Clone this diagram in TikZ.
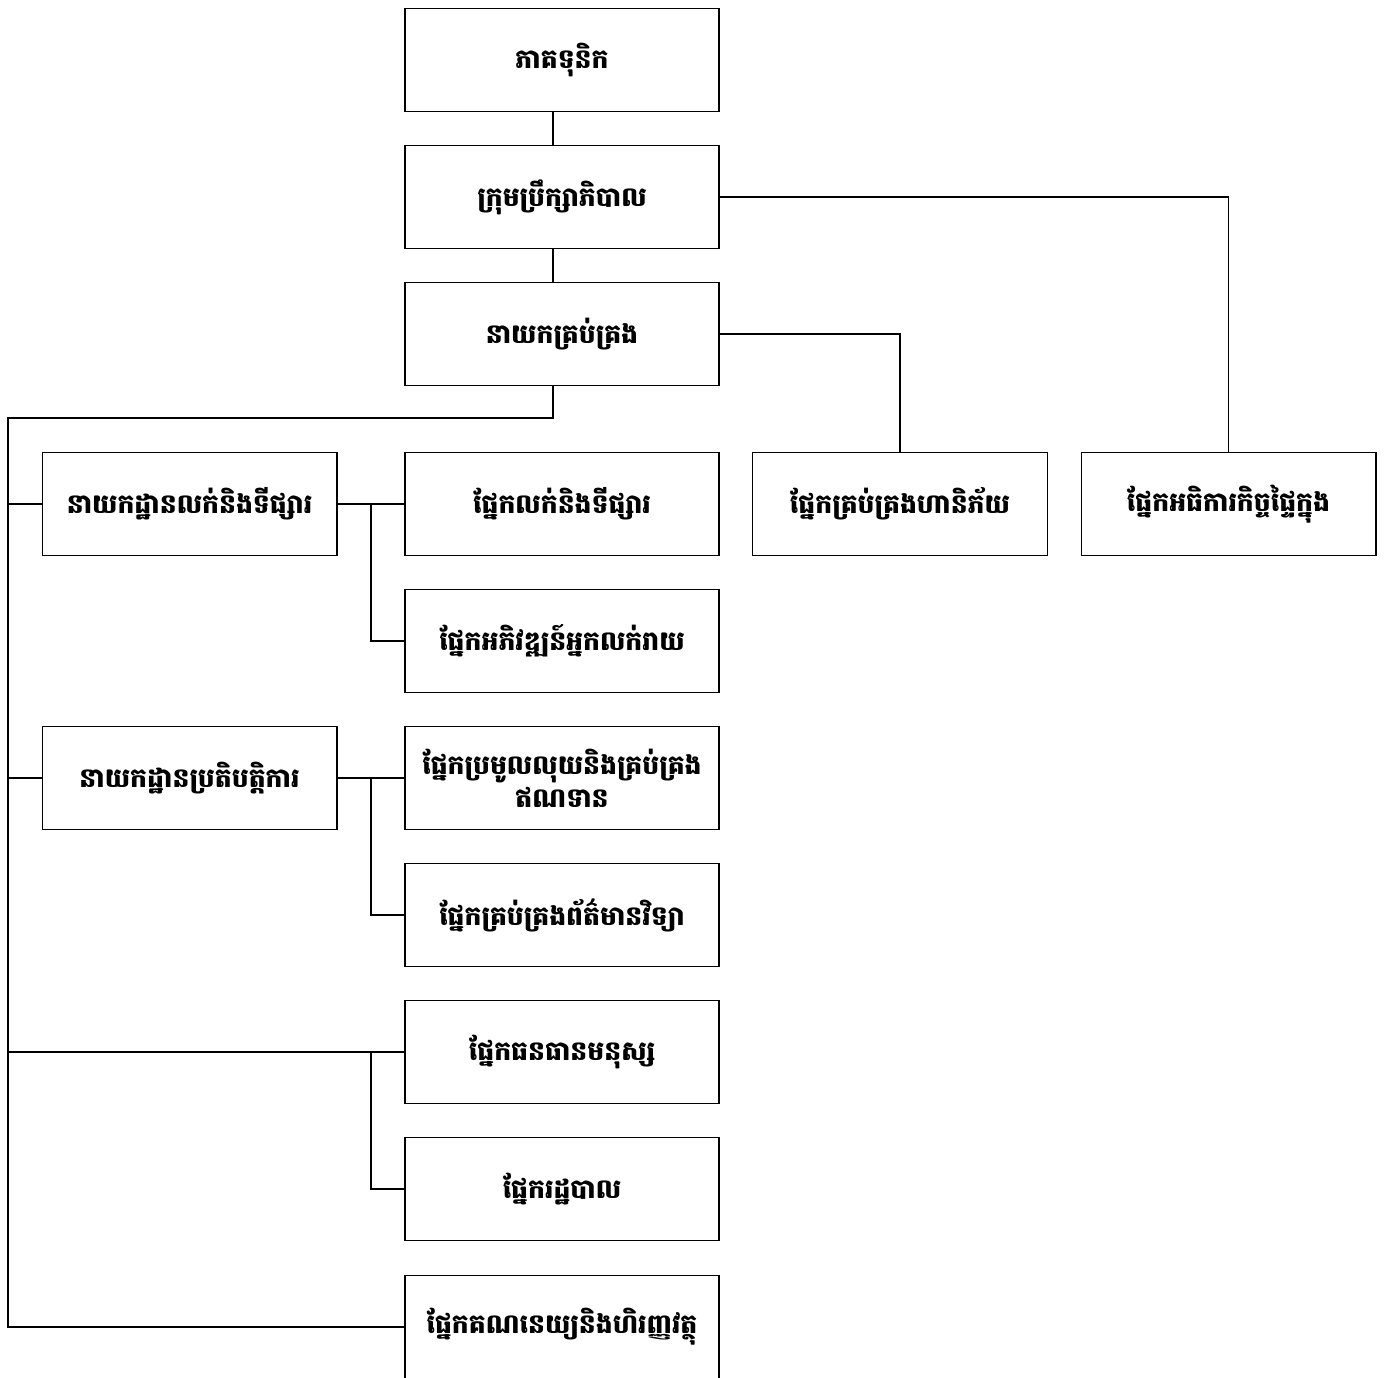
\documentclass[tikz,border=0pt]{standalone}
\usepackage{fontspec}
\newfontfamily\khmer[Script=Khmer]{Battambang}
\tikzset{
    unit/.style={draw, line width=1pt, fill=white, minimum width=235.5pt, minimum height=77.5pt, align=center, inner sep=2pt, font=\khmer\bfseries\fontsize{20}{25}\selectfont},
    dept/.style={unit, minimum width=221pt},
    link/.style={line width=1pt}
}
\begin{document}
\begin{tikzpicture}[x=0.75pt,y=-0.75pt]
    \useasboundingbox (0,0) rectangle (1386,1378);
    % top of the chart
    \node [unit] (share) at (562,60) {ភាគទុនិក};
    \node [unit] (board) at (562,197) {ក្រុមប្រឹក្សាភិបាល};
    \node [unit] (md) at (562,334) {នាយកគ្រប់គ្រង};
    % first row
    \node [dept] (sales) at (189.5,504) {នាយកដ្ឋានលក់និងទីផ្សារ};
    \node [unit] (salesu) at (562,504) {ផ្នែកលក់និងទីផ្សារ};
    \node [dept] (risk) at (900,504) {ផ្នែកគ្រប់គ្រងហានិភ័យ};
    \node [dept] (audit) at (1228.5,504) {ផ្នែកអធិការកិច្ចផ្ទៃក្នុង};
    \node [unit] (retail) at (562,641) {ផ្នែកអភិវឌ្ឍន៍អ្នកលក់រាយ};
    % operations
    \node [dept] (ops) at (189.5,778) {នាយកដ្ឋានប្រតិបត្តិការ};
    \node [unit] (credit) at (562,778) {ផ្នែកប្រមូលលុយនិងគ្រប់គ្រង\\ឥណទាន};
    \node [unit] (it) at (562,915) {ផ្នែកគ្រប់គ្រងព័ត៌មានវិទ្យា};
    \node [unit] (hr) at (562,1052) {ផ្នែកធនធានមនុស្ស};
    \node [unit] (admin) at (562,1189) {ផ្នែករដ្ឋបាល};
    \node [unit] (fin) at (562,1327) {ផ្នែកគណនេយ្យនិងហិរញ្ញវត្ថុ};
    % connectors
    \coordinate (trunk) at (8,418);
    \draw [link] (share.south -| 553,0) -- (board.north -| 553,0);
    \draw [link] (board.south -| 553,0) -- (md.north -| 553,0);
    \draw [link] (board.east) -| (audit.north);
    \draw [link] (md.east) -| (risk.north);
    \draw [link] (md.south -| 553,0) |- (trunk) |- (fin.west);
    \draw [link] (trunk) |- (sales.west);
    \draw [link] (trunk) |- (ops.west);
    \draw [link] (trunk) |- (hr.west);
    \draw [link] (sales.east) -- (salesu.west);
    \draw [link] (sales.east -| 371,0) |- (retail.west);
    \draw [link] (ops.east) -- (credit.west);
    \draw [link] (ops.east -| 371,0) |- (it.west);
    \draw [link] (hr.west -| 371,0) |- (admin.west);
\end{tikzpicture}
\end{document}
